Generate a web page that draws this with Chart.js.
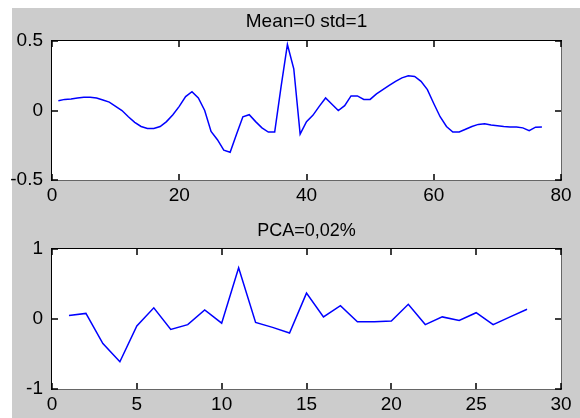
<!doctype html>
<html>

<head>
    <title>Mean / PCA</title>
    <script src="https://cdn.jsdelivr.net/npm/chart.js"></script>
    <style>
        body { margin: 0; background: #ffffff; }
        .painel { position: absolute; left: 12px; top: 8px; width: 568px; height: 410px; background: #cccccc; }
        #graficoMedia { position: absolute; left: 0; top: 0; }
        #graficoPca { position: absolute; left: 0; top: 208px; }
    </style>
</head>

<body>
    <div class="painel"></div>
    <canvas id="graficoMedia" width="580" height="208"></canvas>
    <canvas id="graficoPca" width="580" height="210"></canvas>

    <script>
        // serie normalizada (amostras 1..77)
        var valoresMedia = [0.07, 0.08, 0.083, 0.09, 0.095, 0.096, 0.09, 0.076, 0.06, 0.03,
            0.0, -0.045, -0.085, -0.115, -0.13, -0.13, -0.115, -0.08, -0.03, 0.03,
            0.1, 0.135, 0.09, 0.0, -0.15, -0.21, -0.285, -0.3, -0.17, -0.045,
            -0.03, -0.08, -0.125, -0.155, -0.155, 0.17, 0.475, 0.3, -0.17, -0.08,
            -0.035, 0.03, 0.09, 0.045, 0.0, 0.035, 0.105, 0.105, 0.08, 0.08,
            0.12, 0.15, 0.18, 0.21, 0.235, 0.25, 0.245, 0.21, 0.15, 0.05,
            -0.045, -0.115, -0.155, -0.155, -0.135, -0.115, -0.1, -0.095, -0.105, -0.11,
            -0.115, -0.118, -0.118, -0.125, -0.145, -0.12, -0.118]

        // serie PCA (amostras 1..28)
        var valoresPca = [0.05, 0.08, -0.35, -0.61, -0.1, 0.16, -0.15, -0.08, 0.13, -0.06,
            0.73, -0.05, -0.12, -0.2, 0.37, 0.03, 0.19, -0.04, -0.04, -0.03,
            0.21, -0.08, 0.03, -0.02, 0.09, -0.08, 0.03, 0.14]

        var tituloMedia = 'Mean=0 std=1'
        var tituloPca = 'PCA=0,02%'
        var eixoXMedia = { min: 0, max: 80, passo: 20 }
        var eixoYMedia = { min: -0.5, max: 0.5, passo: 0.5 }
        var eixoXPca = { min: 0, max: 30, passo: 5 }
        var eixoYPca = { min: -1, max: 1, passo: 1 }

        // fundo branco da area + ticks para dentro (estilo matlab)
        var moldura = {
            id: 'moldura',
            beforeDatasetsDraw: function (chart) {
                var a = chart.chartArea
                var ctx = chart.ctx
                ctx.save()
                ctx.fillStyle = '#ffffff'
                ctx.fillRect(a.left, a.top, a.right - a.left, a.bottom - a.top)
                ctx.restore()
            },
            afterDraw: function (chart) {
                var a = chart.chartArea
                var ctx = chart.ctx
                var sx = chart.scales.x
                var sy = chart.scales.y
                var l = Math.round(a.left)
                var r = Math.round(a.right)
                var t = Math.round(a.top)
                var b = Math.round(a.bottom)
                ctx.save()
                ctx.strokeStyle = 'rgb(0,0,0)'
                ctx.lineWidth = 1.5
                ctx.beginPath()
                sx.ticks.forEach(function (tk) {
                    var px = Math.round(sx.getPixelForValue(tk.value))
                    ctx.moveTo(px, b)
                    ctx.lineTo(px, b - 6)
                    ctx.moveTo(px, t)
                    ctx.lineTo(px, t + 6)
                })
                sy.ticks.forEach(function (tk) {
                    var py = Math.round(sy.getPixelForValue(tk.value))
                    ctx.moveTo(l, py)
                    ctx.lineTo(l + 6, py)
                    ctx.moveTo(r, py)
                    ctx.lineTo(r - 6, py)
                })
                ctx.stroke()
                ctx.restore()
            }
        }

        function eixoBorda(posicao, eixo) {
            return {
                type: 'linear',
                position: posicao,
                display: true,
                min: eixo.min,
                max: eixo.max,
                grid: { display: false, drawTicks: false },
                border: { display: true, color: '#000000', width: 1.5 },
                ticks: { display: false },
                afterFit: function (s) {
                    if (posicao === 'top') s.height = 0
                    else s.width = 0
                }
            }
        }

        function criarGrafico(id, titulo, tamTitulo, valores, eixoX, eixoY, alturaX, tituloPad) {
            return new Chart(document.getElementById(id).getContext('2d'), {
                type: 'line',
                data: {
                    datasets: [{
                        data: valores.map(function (v, i) { return { x: i + 1, y: v } }),
                        borderColor: '#0000ff',
                        borderWidth: 1.5,
                        pointRadius: 0,
                        tension: 0,
                        fill: false
                    }]
                },
                plugins: [moldura],
                options: {
                    responsive: false,
                    animation: false,
                    devicePixelRatio: 1,
                    layout: {
                        padding: { left: 0, right: 19, top: 0, bottom: 0 }
                    },
                    plugins: {
                        legend: { display: false },
                        tooltip: { enabled: false },
                        title: {
                            display: true,
                            fullSize: false,
                            text: titulo,
                            color: '#000000',
                            font: { size: tamTitulo, family: 'Liberation Sans', weight: 'normal', lineHeight: 1.2 },
                            padding: tituloPad
                        }
                    },
                    scales: {
                        x: {
                            type: 'linear',
                            min: eixoX.min,
                            max: eixoX.max,
                            grid: { display: false, drawTicks: false },
                            border: { display: true, color: '#000000', width: 1.5 },
                            ticks: {
                                stepSize: eixoX.passo,
                                color: '#000000',
                                padding: 4,
                                maxRotation: 0,
                                font: { size: 19, family: 'Liberation Sans' }
                            },
                            afterFit: function (s) { s.height = alturaX }
                        },
                        y: {
                            min: eixoY.min,
                            max: eixoY.max,
                            grid: { display: false, drawTicks: false },
                            border: { display: true, color: '#000000', width: 1.5 },
                            ticks: {
                                stepSize: eixoY.passo,
                                color: '#000000',
                                padding: 9,
                                font: { size: 19, family: 'Liberation Sans' }
                            },
                            afterFit: function (s) { s.width = 52 }
                        },
                        x2: eixoBorda('top', eixoX),
                        y2: eixoBorda('right', eixoY)
                    }
                }
            })
        }

        var graficoMedia = criarGrafico('graficoMedia', tituloMedia, 19, valoresMedia, eixoXMedia, eixoYMedia, 28, { top: 10.6, bottom: 7.6 })
        var graficoPca = criarGrafico('graficoPca', tituloPca, 18, valoresPca, eixoXPca, eixoYPca, 29, { top: 11.9, bottom: 7.5 })
    </script>
</body>

</html>
